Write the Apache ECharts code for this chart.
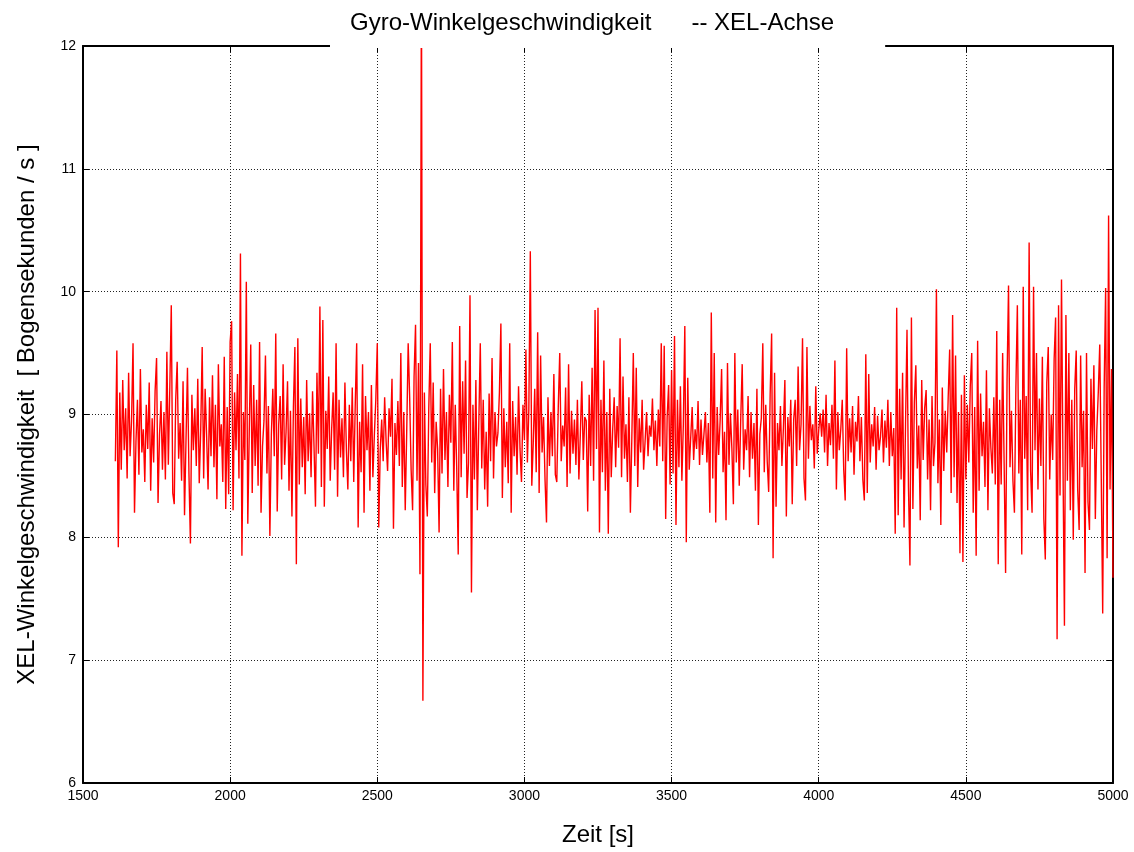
<!DOCTYPE html>
<html>
<head>
<meta charset="utf-8">
<title>Gyro-Winkelgeschwindigkeit -- XEL-Achse</title>
<script src="https://cdn.jsdelivr.net/npm/echarts@6/dist/echarts.min.js"></script>
<style>
  html, body { margin: 0; padding: 0; background: #fff; }
  #chart { width: 1134px; height: 852px; }
</style>
</head>
<body>
<div id="chart"></div>
<script>
// Sampling of the gyro record: first sample time and step, in seconds
const startTime = 1610;
const sampleStep = 5;

// XEL angular rate in arcsec/s, 20 samples (100 s) per row
const rateXEL = [
  8.62, 9.52, 7.92, 9.18, 8.55, 9.28, 8.71, 9.05, 8.48, 9.34, 8.66, 8.95, 9.58, 8.20, 8.78, 9.12, 8.51, 9.37, 8.69, 8.88,
  8.45, 9.08, 8.72, 9.26, 8.38, 8.97, 8.61, 9.19, 9.46, 8.28, 8.83, 9.11, 8.55, 9.02, 8.47, 9.51, 8.59, 9.22, 9.89, 8.36,
  8.27, 9.12, 9.43, 8.64, 8.93, 8.46, 9.27, 8.18, 8.79, 9.38, 8.52, 7.95, 9.16, 8.71, 9.05, 8.58, 9.29, 8.44, 8.87, 9.55,
  8.48, 9.21, 8.83, 8.39, 9.14, 8.66, 9.32, 8.57, 9.08, 8.31, 9.41, 8.74, 8.92, 8.45, 9.47, 8.23, 9.06, 8.35, 9.59, 9.76,
  8.22, 9.18, 8.71, 9.33, 8.48, 10.31, 7.85, 9.02, 8.63, 10.08, 8.11, 8.87, 9.57, 8.36, 9.24, 8.58, 9.12, 8.42, 9.59, 8.20,
  8.74, 8.95, 9.48, 8.52, 9.07, 8.01, 8.83, 9.21, 8.66, 9.66, 8.21, 8.92, 9.15, 8.47, 9.41, 8.59, 8.86, 9.27, 8.38, 9.03,
  8.17, 9.06, 9.55, 7.78, 9.62, 8.43, 9.13, 8.57, 8.98, 8.35, 9.28, 8.62, 9.01, 8.49, 9.19, 8.74, 8.25, 9.34, 8.68, 9.88,
  8.41, 9.77, 8.25, 9.03, 8.72, 9.31, 8.46, 8.88, 9.18, 8.55, 9.58, 8.33, 9.12, 8.65, 8.97, 8.49, 9.26, 8.71, 8.39, 9.08,
  8.62, 9.22, 8.45, 9.07, 9.58, 8.08, 8.94, 8.53, 9.41, 8.20, 9.15, 8.71, 9.02, 8.38, 9.24, 8.49, 8.83, 9.12, 9.58, 8.08,
  8.71, 8.96, 8.62, 9.14, 8.78, 8.54, 9.05, 8.82, 9.29, 8.07, 8.93, 8.67, 9.11, 8.58, 9.50, 8.41, 9.02, 8.22, 8.86, 9.58,
  9.14, 8.55, 8.22, 9.31, 9.73, 8.46, 9.42, 7.70, 12.60, 6.67, 9.18, 8.43, 8.17, 9.05, 9.58, 8.61, 9.26, 8.36, 8.94, 8.72,
  8.04, 9.21, 8.52, 9.37, 8.63, 9.02, 8.41, 9.16, 8.77, 9.59, 8.38, 9.08, 8.55, 7.86, 9.72, 8.49, 9.27, 8.68, 9.44, 8.32,
  8.61, 9.97, 7.55, 9.08, 8.47, 9.28, 8.22, 8.93, 9.58, 8.56, 9.12, 8.39, 8.86, 8.25, 9.17, 8.62, 9.46, 8.48, 9.02, 8.74,
  8.85, 9.18, 9.74, 8.32, 9.05, 8.57, 8.94, 8.44, 9.58, 8.20, 9.11, 8.66, 8.98, 8.51, 9.23, 8.72, 8.45, 9.08, 8.79, 9.53,
  8.61, 9.04, 10.33, 8.42, 8.77, 9.21, 8.53, 9.67, 8.36, 9.48, 8.69, 8.98, 8.47, 8.12, 9.14, 8.58, 9.02, 8.66, 9.33, 8.51,
  8.45, 9.06, 9.50, 8.62, 8.91, 8.74, 9.22, 8.41, 9.41, 8.52, 9.03, 8.68, 8.96, 8.59, 9.12, 8.47, 8.84, 9.27, 8.63, 8.98,
  8.95, 8.21, 9.16, 8.58, 9.38, 8.46, 9.85, 8.72, 9.87, 8.04, 9.12, 8.53, 9.44, 8.38, 9.02, 8.03, 9.21, 8.49, 8.88, 9.14,
  8.57, 9.07, 8.73, 9.62, 8.49, 9.31, 8.64, 8.92, 8.45, 9.14, 8.20, 8.81, 9.50, 8.58, 9.38, 8.41, 8.97, 8.69, 9.12, 8.55,
  8.78, 9.02, 8.66, 8.91, 8.82, 9.13, 8.71, 8.95, 8.58, 9.04, 8.74, 9.58, 8.62, 9.56, 8.15, 8.98, 9.24, 8.43, 9.36, 8.52,
  9.64, 8.10, 9.12, 8.57, 9.23, 8.46, 8.92, 9.72, 7.96, 9.30, 8.55, 8.81, 9.06, 8.63, 8.88, 8.72, 9.11, 8.59, 8.96, 8.67,
  8.84, 9.02, 8.61, 8.93, 8.20, 9.83, 8.48, 9.50, 8.12, 9.06, 8.67, 8.95, 9.37, 8.53, 8.86, 8.14, 9.42, 8.59, 9.01, 8.72,
  8.27, 9.50, 8.61, 9.04, 8.42, 8.96, 9.41, 8.55, 8.88, 8.71, 9.15, 8.49, 9.02, 8.64, 8.93, 8.38, 9.21, 8.10, 8.84, 8.97,
  9.58, 8.53, 9.08, 8.62, 8.37, 9.16, 9.66, 7.83, 9.34, 8.25, 8.93, 8.71, 9.07, 8.58, 8.89, 9.28, 8.17, 8.98, 8.74, 9.12,
  8.27, 8.96, 9.12, 8.58, 9.39, 8.71, 8.92, 9.62, 8.48, 8.30, 9.55, 8.64, 9.07, 8.79, 8.92, 8.56, 9.23, 8.68, 8.87, 9.01,
  8.82, 9.04, 8.69, 9.16, 8.58, 8.93, 8.75, 9.08, 8.64, 9.44, 8.39, 9.02, 8.71, 8.88, 9.12, 8.55, 8.30, 9.54, 8.62, 8.97,
  8.69, 9.07, 8.51, 8.94, 8.78, 9.15, 8.62, 8.98, 8.47, 8.30, 9.49, 8.36, 9.33, 8.61, 8.92, 8.74, 9.06, 8.55, 8.99, 8.71,
  8.82, 9.04, 8.61, 8.95, 8.73, 9.12, 8.58, 9.02, 8.66, 8.89, 8.03, 9.87, 8.18, 9.21, 8.47, 9.34, 8.08, 8.92, 9.69, 8.41,
  7.77, 9.79, 8.23, 9.10, 9.40, 8.56, 8.91, 8.14, 9.28, 8.63, 9.05, 9.20, 8.47, 8.96, 8.22, 9.15, 8.58, 8.77, 10.02, 8.44,
  8.96, 8.10, 9.22, 8.54, 9.03, 8.69, 9.14, 9.53, 8.36, 9.81, 8.49, 9.48, 8.28, 9.02, 7.87, 9.16, 7.80, 9.32, 8.47, 9.08,
  8.61, 9.23, 9.50, 8.20, 9.06, 7.85, 9.60, 8.38, 9.17, 8.66, 8.94, 8.41, 9.36, 8.22, 9.05, 8.73, 8.52, 9.14, 8.43, 9.68,
  7.78, 9.12, 8.43, 9.50, 8.61, 7.71, 9.28, 10.05, 8.57, 9.03, 8.46, 8.20, 9.21, 9.89, 8.52, 9.12, 7.86, 10.04, 8.64, 9.15,
  8.22, 10.40, 8.54, 8.20, 10.04, 8.71, 9.50, 8.39, 9.13, 8.58, 9.47, 8.15, 7.82, 9.26, 9.55, 8.47, 9.00, 8.63, 9.45, 9.79,
  7.17, 9.89, 8.34, 10.10, 8.61, 7.28, 9.81, 8.46, 9.50, 8.22, 9.12, 7.98, 9.21, 9.52, 8.39, 8.06, 9.48, 8.57, 9.03, 7.71,
  9.50, 8.29, 8.06, 9.29, 8.72, 9.40, 8.15, 8.87, 9.18, 9.57, 8.51, 7.38, 9.22, 10.03, 7.83, 10.62, 8.39, 9.37, 7.67
];

// Axis ranges and ticks
const xRange = [1500, 5000];
const xTickStep = 500;
const yRange = [6, 12];
const yTickStep = 1;

// Texts
const chartTitle = 'Gyro-Winkelgeschwindigkeit      -- XEL-Achse';
const xAxisTitle = 'Zeit [s]';
const yAxisTitle = 'XEL-Winkelgeschwindigkeit  [ Bogensekunden / s ]';

const points = rateXEL.map((v, i) => [startTime + i * sampleStep, v]);

const FONT = "'Liberation Sans', Arial, Helvetica, sans-serif";

const chart = echarts.init(document.getElementById('chart'), null, { renderer: 'canvas' });

const frameAxisLine = { show: true, lineStyle: { color: '#000', width: 2 } };
const innerTick = { show: true, inside: true, length: 6, lineStyle: { color: '#000', width: 1 } };
const dottedGrid = { show: true, lineStyle: { color: '#222', width: 1, type: [1, 2] } };
const plainNumber = v => String(v);

chart.setOption({
  animation: false,
  backgroundColor: '#fff',
  title: {
    text: chartTitle,
    left: 330,
    top: 1,
    padding: [10, 51, 13, 20],
    backgroundColor: '#fff',
    textStyle: { fontFamily: FONT, fontSize: 24, fontWeight: 'normal', color: '#000', lineHeight: 24 }
  },
  grid: { left: 83, right: 21, top: 46, bottom: 69, show: false },
  xAxis: [
    {
      type: 'value', position: 'bottom',
      min: xRange[0], max: xRange[1], interval: xTickStep,
      axisLine: frameAxisLine, axisTick: innerTick,
      axisLabel: { color: '#000', fontFamily: FONT, fontSize: 14, margin: 6, formatter: plainNumber },
      splitLine: dottedGrid,
      name: xAxisTitle, nameLocation: 'middle', nameGap: 40,
      nameTextStyle: { fontFamily: FONT, fontSize: 24, color: '#000' }
    },
    {
      type: 'value', position: 'top',
      min: xRange[0], max: xRange[1], interval: xTickStep,
      axisLine: frameAxisLine, axisTick: innerTick,
      axisLabel: { show: false }, splitLine: { show: false }
    }
  ],
  yAxis: [
    {
      type: 'value', position: 'left',
      min: yRange[0], max: yRange[1], interval: yTickStep,
      axisLine: frameAxisLine, axisTick: innerTick,
      axisLabel: { color: '#000', fontFamily: FONT, fontSize: 14, margin: 7, formatter: plainNumber },
      splitLine: dottedGrid,
      name: yAxisTitle, nameLocation: 'middle', nameGap: 44, nameRotate: 90,
      nameTextStyle: { fontFamily: FONT, fontSize: 24, color: '#000' }
    },
    {
      type: 'value', position: 'right',
      min: yRange[0], max: yRange[1], interval: yTickStep,
      axisLine: frameAxisLine, axisTick: innerTick,
      axisLabel: { show: false }, splitLine: { show: false }
    }
  ],
  series: [
    {
      type: 'line',
      xAxisIndex: 0, yAxisIndex: 0,
      data: points,
      showSymbol: false,
      symbol: 'none',
      clip: true,
      lineStyle: { color: '#ff0000', width: 1.4 },
      z: 3
    }
  ]
});
</script>
</body>
</html>
